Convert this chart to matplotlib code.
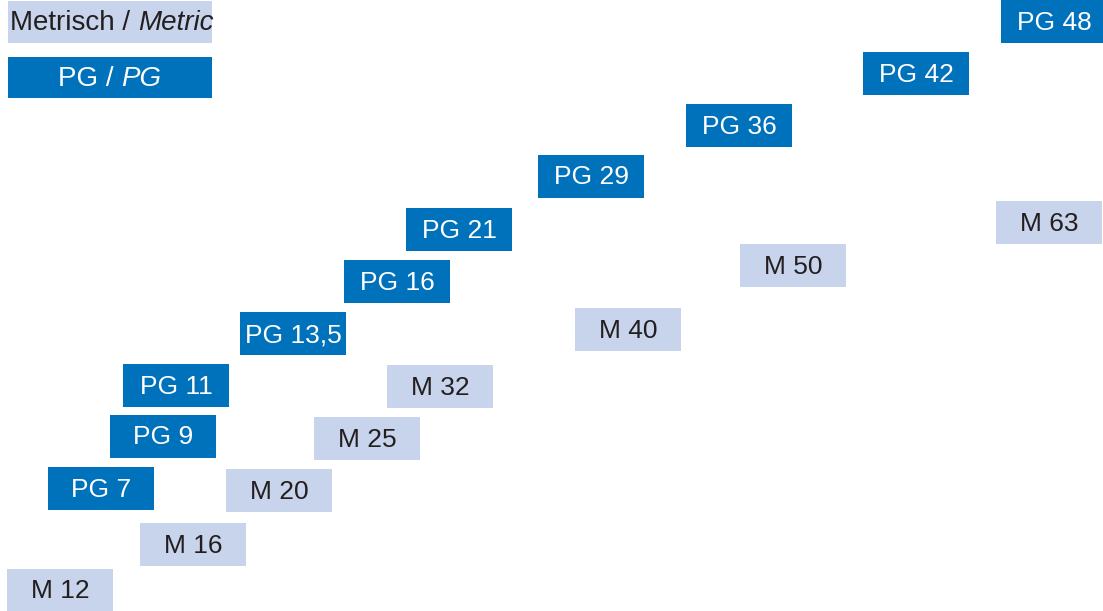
"""Cable gland thread sizes: metric vs PG, staggered label boxes."""

import matplotlib.pyplot as plt
from matplotlib.patches import Rectangle

# box centres (pixel-like layout units)
pg_labels = ["PG 7", "PG 9", "PG 11", "PG 13,5", "PG 16", "PG 21", "PG 29", "PG 36", "PG 42", "PG 48"]
pg_x = [101, 163, 176, 293, 397, 459, 591, 739, 916, 1054]
pg_y = [488.5, 436, 385.5, 333.5, 281, 229, 176, 125.5, 73.5, 21.5]

m_labels = ["M 12", "M 16", "M 20", "M 25", "M 32", "M 40", "M 50", "M 63"]
m_x = [60, 193, 279, 367, 440, 628, 793, 1049]
m_y = [590, 544.5, 490.5, 438.5, 386.5, 329, 265.5, 222.5]

DARK = "#0071BB"
LIGHT = "#C8D4EC"
INK = "#231F20"
BOX_W, BOX_H = 106, 43
FONT = ["Liberation Sans Narrow", "Liberation Sans", "DejaVu Sans"]
FS = 19

fig = plt.figure(figsize=(11.03, 6.11), dpi=100)
ax = fig.add_axes([0, 0, 1, 1])
ax.set_xlim(0, 1103)
ax.set_ylim(611, 0)
ax.axis("off")


def box(x, y, label, face, color, w=BOX_W, h=BOX_H):
    ax.add_patch(Rectangle((x - w / 2, y - h / 2), w, h, facecolor=face,
                           edgecolor="none"))
    ax.text(x, y + 1.5, label, ha="center", va="center", color=color,
            fontsize=FS, family=FONT)


for x, y, lab in zip(m_x, m_y, m_labels):
    box(x, y, lab, LIGHT, INK)
for x, y, lab in zip(pg_x, pg_y, pg_labels):
    box(x, y, lab, DARK, "white")

# legend boxes
ax.add_patch(Rectangle((8, 1), 204, 42, facecolor=LIGHT, edgecolor="none"))
ax.add_patch(Rectangle((8, 57), 204, 41, facecolor=DARK, edgecolor="none"))

renderer = fig.canvas.get_renderer()


def mixed(x, y, upright, italic, color, centre=False):
    t1 = ax.text(x, y, upright, ha="left", va="center", color=color,
                 fontsize=FS + 1, family=FONT)
    w1 = t1.get_window_extent(renderer).width
    t2 = ax.text(x + w1, y, italic, ha="left", va="center", color=color,
                 fontsize=FS + 1, family=FONT, style="italic")
    w2 = t2.get_window_extent(renderer).width
    if centre:
        shift = -(w1 + w2) / 2
        t1.set_x(x + shift)
        t2.set_x(x + w1 + shift)


mixed(10, 23.5, "Metrisch / ", "Metric", INK)
mixed(110, 79.5, "PG / ", "PG", "white", centre=True)

fig.savefig("out.png", dpi=100)
